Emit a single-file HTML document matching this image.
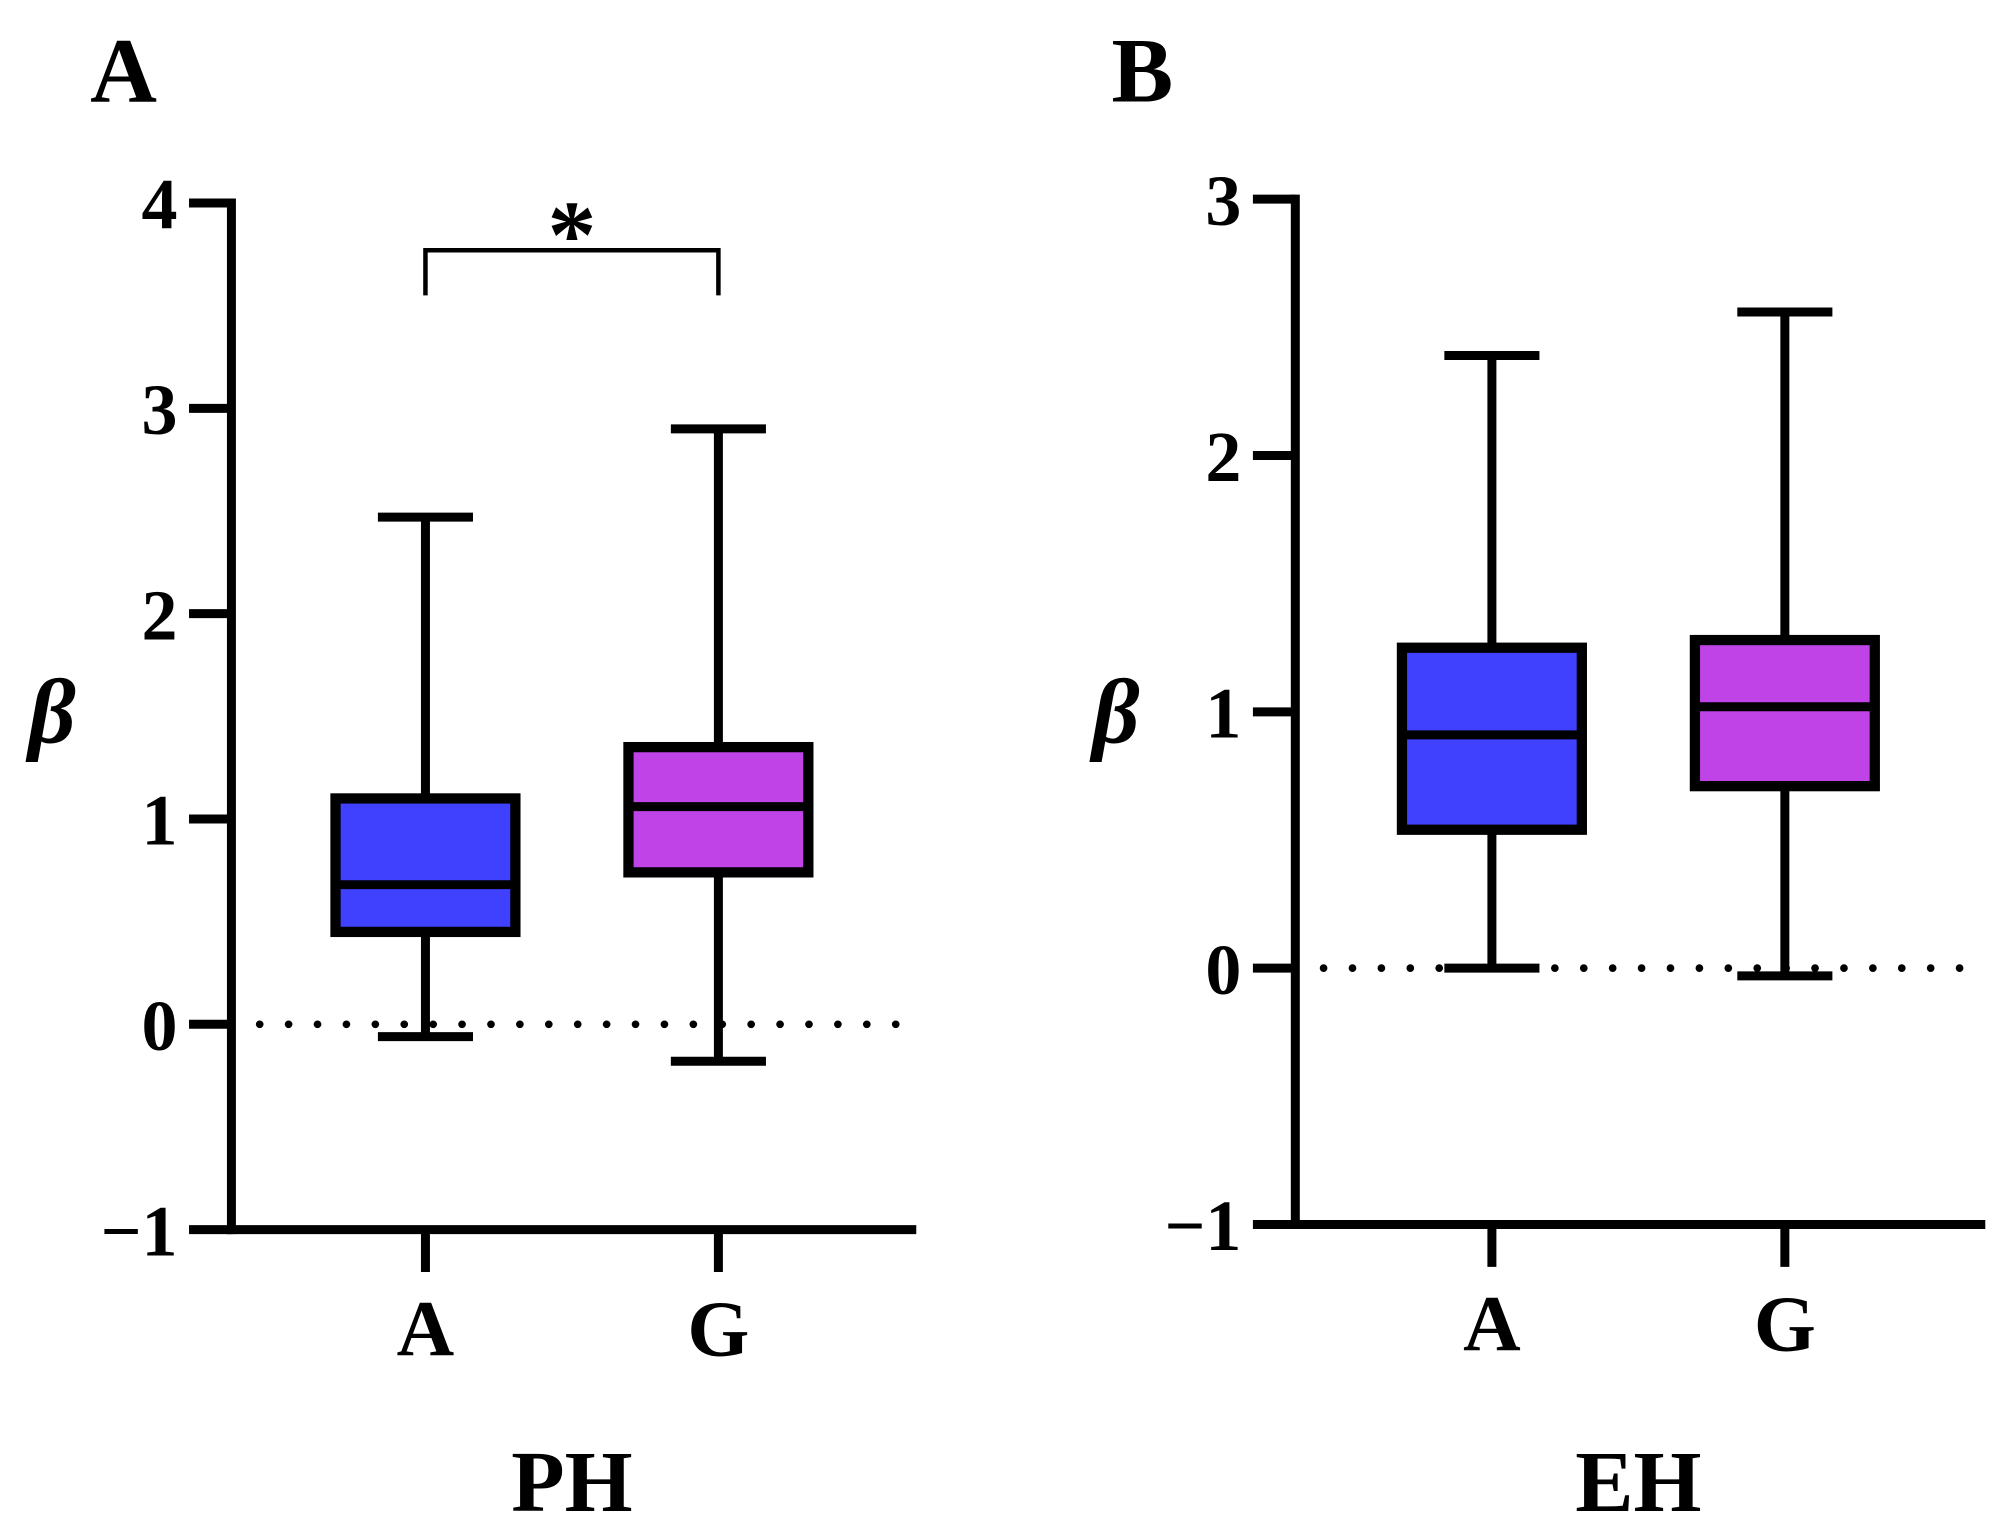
<!DOCTYPE html>
<html><head><meta charset="utf-8"><style>
html,body{margin:0;padding:0;background:#fff;}
svg{display:block;}
text{font-family:"Liberation Serif","Times New Roman",serif;font-weight:bold;fill:#000;}
</style></head><body>
<svg id="chart" width="2015" height="1538" viewBox="0 0 1568 1197" xmlns="http://www.w3.org/2000/svg"></svg>
<script>
// Panel A (PH) data
const catsA = ["A", "G"];
const minA = [-0.06, -0.18];
const q1A = [0.45, 0.74];
const medA = [0.68, 1.06];
const q3A = [1.10, 1.35];
const maxA = [2.47, 2.90];
const ticksA = [4, 3, 2, 1, 0, -1];
// Panel B (EH) data
const catsB = ["A", "G"];
const minB = [0.0, -0.03];
const q1B = [0.54, 0.71];
const medB = [0.91, 1.02];
const q3B = [1.25, 1.28];
const maxB = [2.39, 2.56];
const ticksB = [3, 2, 1, 0, -1];
const colors = ["#4040ff", "#c043e8"];

const svg = document.getElementById('chart');
const NS = 'http://www.w3.org/2000/svg';
function mk(tag, attrs, parent) {
  const e = document.createElementNS(NS, tag);
  for (const k in attrs) e.setAttribute(k, attrs[k]);
  (parent || svg).appendChild(e);
  return e;
}
const LW = 7;

function panel(cfg) {
  const g = mk('g', {});
  
  
  const y = v => cfg.y0 + (cfg.vmax - v) * (cfg.y1 - cfg.y0) / (cfg.vmax - cfg.vmin);
  const xs = i => cfg.catX[i];
  const pl = mk('text', {x: cfg.letterX, y: 79, 'font-size': 72}, g);
  pl.textContent = cfg.letter;
  
  
  const zl = mk('line', {x1: cfg.ax + 22, x2: cfg.axEnd, y1: y(0), y2: y(0), stroke: '#000', 'stroke-width': 6, 'stroke-dasharray': '0 22.5', 'stroke-linecap': 'round'}, g);
  
  
  const ya = mk('line', {x1: cfg.ax, x2: cfg.ax, y1: y(cfg.vmax) - 3.5, y2: y(cfg.vmin) + 3.5, stroke: '#000', 'stroke-width': LW}, g);
  
  
  const xa = mk('line', {x1: cfg.ax - 3.5, x2: cfg.axEnd, y1: y(cfg.vmin), y2: y(cfg.vmin), stroke: '#000', 'stroke-width': LW}, g);
  
  
  cfg.ticks.forEach(t => {
    const tl = mk('line', {x1: cfg.ax - 33, x2: cfg.ax, y1: y(t), y2: y(t), stroke: '#000', 'stroke-width': LW}, g);
    
    
    const tx = mk('text', {x: cfg.ax - 42, y: y(t) + 20, 'font-size': 56, 'text-anchor': 'end'}, g);
    tx.textContent = t < 0 ? '\u2212' + Math.abs(t) : String(t);
    
    
  });
  const yt = mk('text', {x: cfg.ax - 158, y: 578, 'font-size': 72, 'font-style': 'italic'}, g);
  yt.textContent = 'β';
  
  
  cfg.cats.forEach((c, i) => {
    const cx = xs(i);
    const ct = mk('line', {x1: cx, x2: cx, y1: y(cfg.vmin), y2: y(cfg.vmin) + 33, stroke: '#000', 'stroke-width': LW}, g);
    
    
    const cl = mk('text', {x: cx, y: y(cfg.vmin) + 98, 'font-size': 62, 'text-anchor': 'middle'}, g);
    cl.textContent = c;
    
    
    const bg = mk('g', {}, g);
    
    
    const w = mk('line', {x1: cx, x2: cx, y1: y(cfg.max[i]), y2: y(cfg.min[i]), stroke: '#000', 'stroke-width': LW}, bg);
    
    
    [cfg.max[i], cfg.min[i]].forEach(v => {
      const cap = mk('line', {x1: cx - 37, x2: cx + 37, y1: y(v), y2: y(v), stroke: '#000', 'stroke-width': LW}, bg);
      
      
    });
    const r = mk('rect', {x: cx - 70, y: y(cfg.q3[i]), width: 140, height: y(cfg.q1[i]) - y(cfg.q3[i]), fill: colors[i], stroke: '#000', 'stroke-width': 8}, bg);
    
    
    const m = mk('line', {x1: cx - 70, x2: cx + 70, y1: y(cfg.med[i]), y2: y(cfg.med[i]), stroke: '#000', 'stroke-width': LW}, bg);
    
    
  });
  const xt = mk('text', {x: (xs(0) + xs(1)) / 2, y: 1176, 'font-size': 68, 'text-anchor': 'middle'}, g);
  xt.textContent = cfg.title;
  
  
  return y;
}

const yA = panel({name: 'panel-a', letter: 'A', letterX: 70, title: 'PH', ax: 180, axEnd: 713, y0: 158, y1: 957, vmax: 4, vmin: -1,
  catX: [331, 559], cats: catsA, min: minA, q1: q1A, med: medA, q3: q3A, max: maxA, ticks: ticksA});
const br = mk('path', {d: `M331 ${yA(3.55)} V${yA(3.77)} H559 V${yA(3.55)}`, fill: 'none', stroke: '#000', 'stroke-width': 3.5});


const st = mk('text', {x: 445, y: 208, 'font-size': 76, 'text-anchor': 'middle'});
st.textContent = '*';



panel({name: 'panel-b', letter: 'B', letterX: 865, title: 'EH', ax: 1008, axEnd: 1545, y0: 155, y1: 953, vmax: 3, vmin: -1,
  catX: [1161, 1389], cats: catsB, min: minB, q1: q1B, med: medB, q3: q3B, max: maxB, ticks: ticksB});
</script>
</body></html>
